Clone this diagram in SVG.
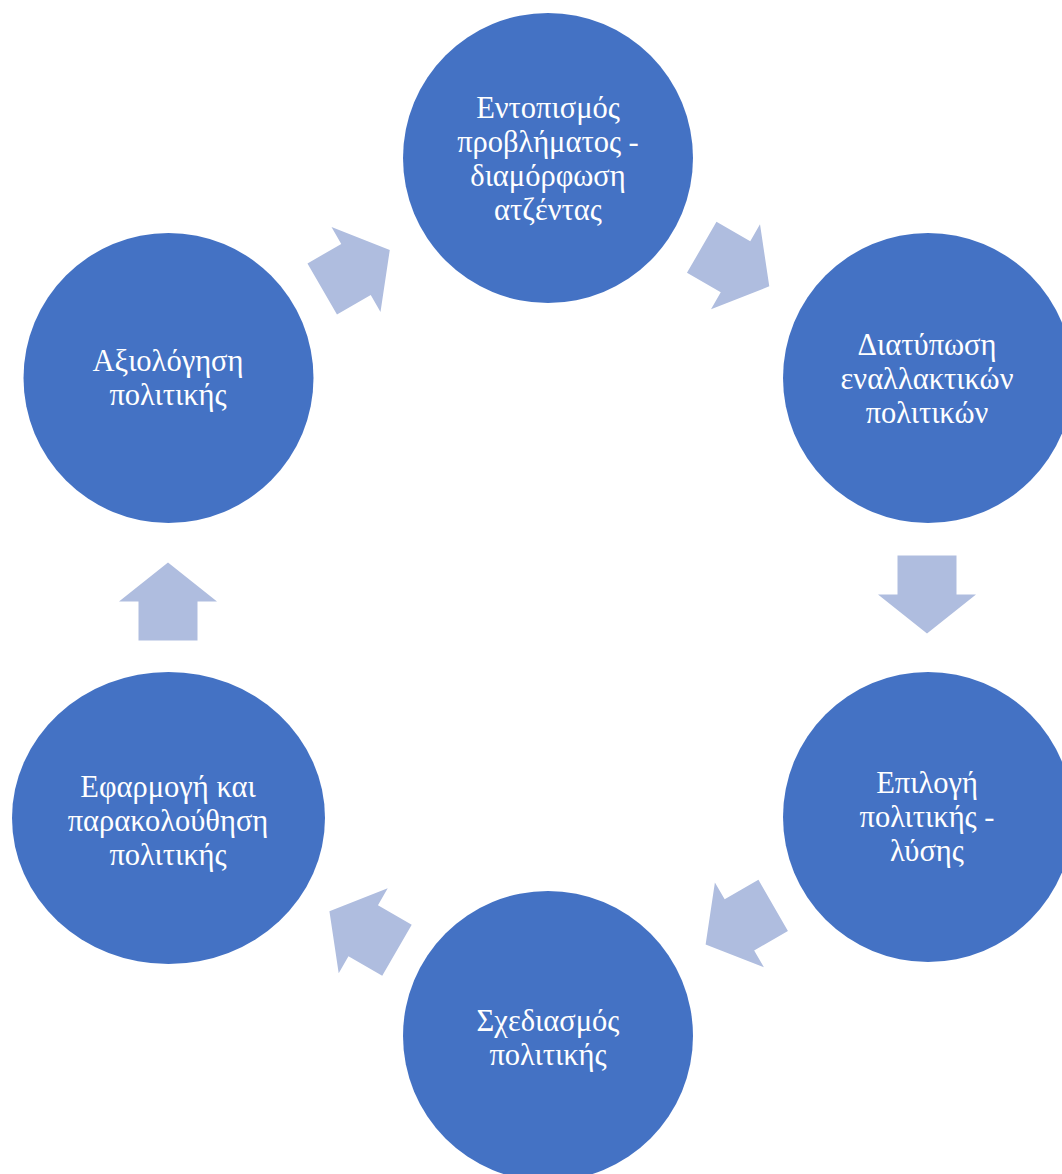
<svg xmlns="http://www.w3.org/2000/svg" width="1062" height="1174" viewBox="0 0 1062 1174">
<defs>
<style>
.node{fill:#4472C4;}
.lbl{font-family:"Liberation Serif","Times New Roman",serif;font-size:30.5px;fill:#FFFFFF;text-anchor:middle;}
.arr{fill:#AFBDDF;}
</style>
<polygon id="arrow" points="-39,-29.5 0,-29.5 0,-49 39,0 0,49 0,29.5 -39,29.5"/>
</defs>
<rect width="1062" height="1174" fill="#FFFFFF"/>
<g id="connectors">
<use href="#arrow" class="arr" transform="translate(356,269.5) rotate(-30)"/>
<use href="#arrow" class="arr" transform="translate(735.5,266.8) rotate(30)"/>
<use href="#arrow" class="arr" transform="translate(927,594.5) rotate(90)"/>
<use href="#arrow" class="arr" transform="translate(739.4,924.9) rotate(150)"/>
<use href="#arrow" class="arr" transform="translate(363.2,930.7) rotate(210)"/>
<use href="#arrow" class="arr" transform="translate(168,601.5) rotate(-90)"/>
</g>
<g id="node1">
<circle class="node" cx="548" cy="158" r="145"/>
<text class="lbl"><tspan x="548" y="118">Εντοπισμός</tspan><tspan x="548" y="152">προβλήματος -</tspan><tspan x="548" y="186">διαμόρφωση</tspan><tspan x="548" y="220">ατζέντας</tspan></text>
</g>
<g id="node2">
<circle class="node" cx="928" cy="378" r="145"/>
<text class="lbl"><tspan x="927" y="355">Διατύπωση</tspan><tspan x="927" y="389">εναλλακτικών</tspan><tspan x="927" y="423">πολιτικών</tspan></text>
</g>
<g id="node3">
<circle class="node" cx="928" cy="817" r="145"/>
<text class="lbl"><tspan x="927" y="793">Επιλογή</tspan><tspan x="927" y="827">πολιτικής -</tspan><tspan x="927" y="861">λύσης</tspan></text>
</g>
<g id="node4">
<circle class="node" cx="548" cy="1036" r="145"/>
<text class="lbl"><tspan x="548" y="1031">Σχεδιασμός</tspan><tspan x="548" y="1065">πολιτικής</tspan></text>
</g>
<g id="node5">
<ellipse class="node" cx="168.5" cy="818" rx="156.5" ry="146"/>
<text class="lbl"><tspan x="168" y="797">Εφαρμογή και</tspan><tspan x="168" y="831">παρακολούθηση</tspan><tspan x="168" y="865">πολιτικής</tspan></text>
</g>
<g id="node6">
<circle class="node" cx="168.5" cy="378" r="145"/>
<text class="lbl"><tspan x="168" y="371">Αξιολόγηση</tspan><tspan x="168" y="405">πολιτικής</tspan></text>
</g>
</svg>
